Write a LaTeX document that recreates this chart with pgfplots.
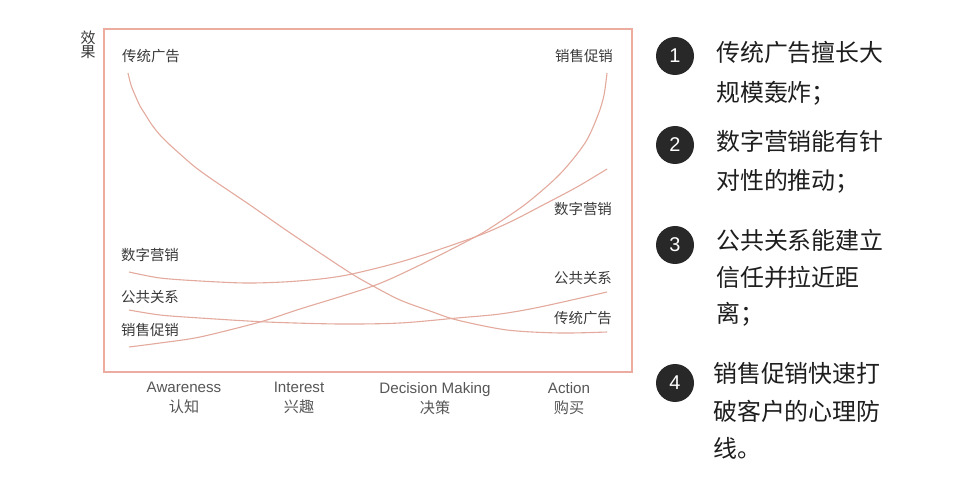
\documentclass[border=0pt]{standalone}
\usepackage{pgfplots}
\pgfplotsset{compat=1.18}
\usepackage{fontspec}
\setmainfont{Liberation Sans}
\newfontfamily\cjk{Noto Sans CJK SC}
\definecolor{boxc}{RGB}{236,172,160}
\definecolor{curvec}{RGB}{228,170,158}
\definecolor{lab}{RGB}{58,58,58}
\definecolor{txt}{RGB}{30,30,30}
\definecolor{badge}{RGB}{40,40,40}
\begin{document}
\begin{tikzpicture}[x=1bp,y=1bp]
\path[use as bounding box] (0,0) rectangle (960,-481);
\fill[white] (0,0) rectangle (960,-481);
\begin{axis}[
  at={(104,-372)}, anchor=south west,
  scale only axis, width=528bp, height=343bp,
  xmin=104, xmax=632, ymin=-372, ymax=-29,
  axis line style={boxc, line width=2bp},
  clip=false,
  ytick=\empty,
  xtick={184,299,435,569},
  xticklabels={{Awareness\\{\cjk 认知}},{Interest\\{\cjk 兴趣}},{Decision Making\\{\cjk 决策}},{Action\\{\cjk 购买}}},
  major tick length=0pt,
  xticklabel style={align=center, anchor=north, yshift=-7bp, text=lab!85, font=\fontsize{15.2}{20}\selectfont},
]
% 传统广告
\addplot[curvec, line width=1.1bp, smooth, tension=0.5] coordinates {(128,-73) (131,-85) (135,-95) (140,-106) (145,-114) (152,-125) (160,-135) (170,-145) (180,-154) (195,-167) (213,-180) (250,-205) (283,-228) (317,-251) (352,-274) (373,-286) (400,-300) (430,-311) (457,-320) (507,-330) (560,-333) (607,-332)};
% 数字营销
\addplot[curvec, line width=1.1bp, smooth, tension=0.5] coordinates {(129,-272) (160,-278) (200,-281) (245,-283) (283,-282) (320,-279) (352,-274) (407,-260) (475,-237) (510,-222) (543,-205) (577,-187) (607,-169)};
% 公共关系
\addplot[curvec, line width=1.1bp, smooth, tension=0.5] coordinates {(129,-310) (160,-315) (200,-318) (267,-322) (340,-324) (400,-323) (457,-318) (500,-314) (540,-307) (607,-292)};
% 销售促销
\addplot[curvec, line width=1.1bp, smooth, tension=0.5] coordinates {(129,-347) (160,-343) (200,-337) (260,-322) (300,-309) (373,-286) (420,-265) (475,-237) (495,-225) (527,-203) (560,-174) (585,-143) (598,-115) (604,-95) (607,-73)};
\begin{scope}[every node/.style={font=\cjk\fontsize{14.5}{15}\selectfont, text=lab}]
\node at (axis cs:151,-56) {传统广告};
\node at (axis cs:584,-56) {销售促销};
\node at (axis cs:583,-209) {数字营销};
\node at (axis cs:583,-278) {公共关系};
\node at (axis cs:583,-318) {传统广告};
\node at (axis cs:150,-255) {数字营销};
\node at (axis cs:150,-297) {公共关系};
\node at (axis cs:150,-330) {销售促销};
\end{scope}
\end{axis}
\node[font=\cjk\fontsize{15}{14}\selectfont, text=lab, align=center] at (88,-45) {效\\果};
% right-hand notes
\foreach \n/\yy in {1/56,2/145,3/245,4/383}{
  \fill[badge] (675,-\yy) circle (19);
  \node[text=white, font=\fontsize{20}{20}\selectfont] at (675,-\yy) {\n};
}
\begin{scope}[every node/.style={anchor=west, inner sep=0pt, text=txt, font=\cjk\fontsize{24}{24}\selectfont}]
\node at (716,-52) {传统广告擅长大};
\node at (716,-93) {规模轰炸；};
\node at (716,-141) {数字营销能有针};
\node at (716,-181) {对性的推动；};
\node at (716,-240) {公共关系能建立};
\node at (716,-277) {信任并拉近距};
\node at (716,-314) {离；};
\node at (713,-373) {销售促销快速打};
\node at (713,-411) {破客户的心理防};
\node at (713,-448) {线。};
\end{scope}
\end{tikzpicture}
\end{document}
